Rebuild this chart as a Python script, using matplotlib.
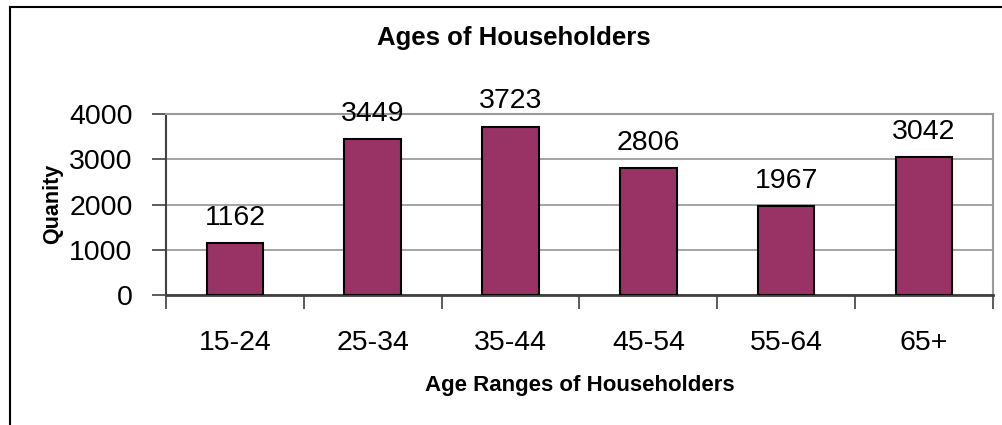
import numpy as np
import matplotlib
matplotlib.use('Agg')
import matplotlib.pyplot as plt
from matplotlib.lines import Line2D

# data
age_ranges = ['15-24', '25-34', '35-44', '45-54', '55-64', '65+']
households = [1162, 3449, 3723, 2806, 1967, 3042]
y_ticks = [0, 1000, 2000, 3000, 4000]

plt.rcParams['font.family'] = ['Liberation Sans', 'DejaVu Sans']

fig = plt.figure(figsize=(10.03, 4.25), dpi=100)
ax = fig.add_axes([0.1655, 0.3052, 0.8245, 0.4266])

x = np.arange(len(age_ranges))
bars = ax.bar(x, households, width=0.41, color='#993366',
              edgecolor='black', linewidth=1.5, zorder=3)

# value labels above bars
for rect, v in zip(bars, households):
    ax.annotate(str(v), (rect.get_x() + rect.get_width() / 2, rect.get_height()),
                xytext=(0, 13), textcoords='offset points',
                ha='center', va='baseline', fontsize=20.5)

ax.set_xlim(-0.5, len(age_ranges) - 0.5)
ax.set_ylim(0, 4000)
ax.set_yticks(y_ticks)
ax.yaxis.grid(True, color='#8c8c8c', linewidth=1.1, zorder=0)

# categories: labels in the middle, ticks at boundaries
ax.set_xticks(x)
ax.set_xticklabels(age_ranges, fontsize=20.5)
ax.set_xticks(np.arange(len(age_ranges) + 1) - 0.5, minor=True)
ax.tick_params(axis='x', which='major', length=0, pad=25)
ax.tick_params(axis='x', which='minor', length=10, width=1.2, color='#404040')
ax.tick_params(axis='y', length=10, width=1.2, color='#404040', pad=14,
               labelsize=20.5)

for side in ['top', 'right']:
    ax.spines[side].set_color('#999999')
    ax.spines[side].set_linewidth(1.5)
ax.spines['left'].set_color('#404040')
ax.spines['bottom'].set_color('#404040')
ax.spines['left'].set_linewidth(1.5)
ax.spines['bottom'].set_linewidth(2)

# titles placed in figure coordinates, as in the original chart
fig.text(514 / 1003, 1 - 38 / 425, 'Ages of Householders',
         fontsize=18.5, fontweight='bold', ha='center', va='center')
fig.text(580 / 1003, 1 - 386 / 425, 'Age Ranges of Householders',
         fontsize=16, fontweight='bold', ha='center', va='center')
fig.text(53 / 1003, 1 - 204 / 425, 'Quanity', fontsize=15.5,
         fontweight='bold', rotation=90, ha='center', va='center')

# outer chart frame (left and top edges only visible)
fig.add_artist(Line2D([10 / 1003, 10 / 1003], [0, 1 - 7 / 425],
                      transform=fig.transFigure, color='black', linewidth=1.5))
fig.add_artist(Line2D([10 / 1003, 1], [1 - 7 / 425, 1 - 7 / 425],
                      transform=fig.transFigure, color='black', linewidth=1.5))

fig.savefig('out.png', dpi=100)
